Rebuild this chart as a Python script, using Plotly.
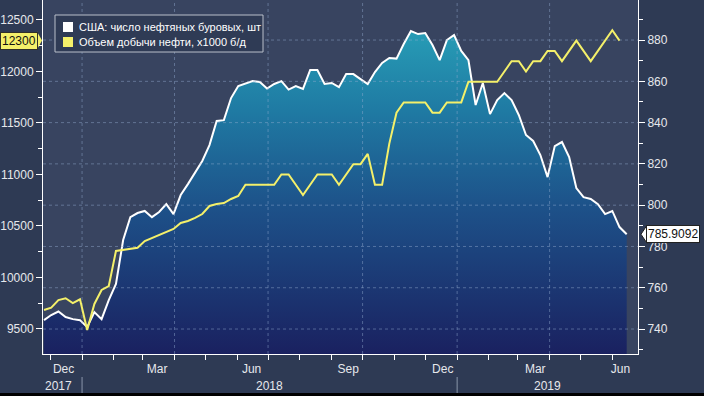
import pandas as pd
import plotly.graph_objects as go

W, H = 704, 396
L, R, T, B = 43, 638, 0, 354  # plot area in pixels


def px(xp):
    return (xp - L) / (R - L)


def py(yp):
    return 1 - (yp - T) / (B - T)


RIG_NAME = "США: число нефтяных буровых, шт"
PROD_NAME = "Объем добычи нефти, x1000 б/д"

rig_dates = pd.date_range("2017-11-25", periods=82, freq="7D")
rigs = [
    744.3, 746.8, 748.5, 745.8, 744.8, 744.3, 740.9, 748.2, 744.8, 754.0,
    761.8, 783.1, 794.2, 796.2, 797.2, 794.2, 796.7, 800.5, 795.7, 804.9,
    810.2, 816.0, 821.4, 829.1, 840.8, 841.2, 851.9, 857.7, 858.9, 860.1,
    859.7, 856.5, 858.7, 860.1, 856.0, 857.7, 856.3, 865.5, 865.5, 858.7,
    859.2, 857.2, 863.5, 863.5, 861.1, 858.7, 864.5, 868.9, 871.3, 871.0,
    878.1, 884.4, 882.9, 883.4, 877.6, 870.3, 880.0, 882.4, 874.7, 870.3,
    848.5, 859.2, 844.1, 850.9, 854.3, 850.9, 843.7, 834.0, 831.1, 824.3,
    813.6, 828.6, 830.6, 823.3, 808.3, 803.9, 803.0, 800.5, 795.7, 797.2,
    789.4, 785.9092,
]

prod_dates = rig_dates[:81]
production = [
    9684, 9707, 9781, 9798, 9752, 9788, 9490, 9743, 9879, 9917,
    10257, 10267, 10277, 10289, 10354, 10383, 10413, 10442, 10471, 10529,
    10549, 10578, 10616, 10694, 10714, 10723, 10762, 10791, 10900, 10900,
    10900, 10900, 10900, 11000, 11000, 10900, 10800, 10900, 11000, 11000,
    11000, 10900, 11000, 11100, 11100, 11200, 10900, 10900, 11300, 11600,
    11700, 11700, 11700, 11700, 11600, 11600, 11700, 11700, 11700, 11900,
    11900, 11900, 11900, 11900, 12000, 12100, 12100, 12000, 12100, 12100,
    12200, 12200, 12100, 12200, 12300, 12200, 12100, 12200, 12300, 12400,
    12300,
]

rig_ticks = [740, 760, 780, 800, 820, 840, 860, 880]
prod_ticks = [9500, 10000, 10500, 11000, 11500, 12000, 12500]
month_label_dates = ["2017-12-14", "2018-03-15", "2018-06-15", "2018-09-17",
                     "2018-12-18", "2019-03-18", "2019-06-09"]
month_labels = ["Dec", "Mar", "Jun", "Sep", "Dec", "Mar", "Jun"]
year_labels = ["2017", "2018", "2019"]
year_label_dates = ["2017-12-09", "2018-07-02", "2019-03-30"]
year_breaks = ["2018-01-01", "2019-01-01"]
grid_dates = ["2018-01-01", "2018-04-01", "2018-07-01", "2018-10-01",
              "2019-01-01", "2019-04-01"]

X_RANGE = ["2017-11-24", "2019-06-26"]
RIG_RANGE = [727.9, 899.4]
PROD_RANGE = [9257, 12694]

WHITE = "#ffffff"
YELLOW = "#f4f06a"
TXT = "#e6e8ec"
FONT = "Liberation Sans, Arial, sans-serif"

fig = go.Figure()

# rigs area (right axis)
fig.add_trace(go.Scatter(
    x=rig_dates, y=rigs, name=RIG_NAME, mode="lines",
    line=dict(color=WHITE, width=2),
    fill="tozeroy",
    fillgradient=dict(type="vertical",
                      colorscale=[[0, "#1a2160"], [0.45, "#1d5189"],
                                  [0.75, "#1f7aa3"], [1, "#279db6"]],
                      start=RIG_RANGE[0], stop=885),
    yaxis="y", showlegend=False, hoverinfo="skip",
))

# dashed grid above the area
gx, gy = [], []
for v in rig_ticks:
    gx += [X_RANGE[0], X_RANGE[1], None]
    gy += [v, v, None]
for d in grid_dates:
    gx += [d, d, None]
    gy += [RIG_RANGE[0], RIG_RANGE[1], None]
fig.add_trace(go.Scatter(
    x=gx, y=gy, mode="lines", yaxis="y",
    line=dict(color="rgba(150,175,210,0.45)", width=1, dash="3px,3px"),
    showlegend=False, hoverinfo="skip",
))

# production line (left axis)
fig.add_trace(go.Scatter(
    x=prod_dates, y=production, name=PROD_NAME, mode="lines",
    line=dict(color=YELLOW, width=2),
    yaxis="y2", showlegend=False, hoverinfo="skip",
))

shapes = []
annotations = []

# year separators
for d in year_breaks:
    shapes.append(dict(type="line", xref="x", yref="paper", x0=d, x1=d,
                       y0=py(377), y1=py(393),
                       line=dict(color="#8a96aa", width=1)))
for lbl, d in zip(year_labels, year_label_dates):
    annotations.append(dict(text=lbl, x=d, xref="x", y=py(386), yref="paper",
                            showarrow=False, xanchor="center", yanchor="middle",
                            font=dict(size=12, color=TXT, family=FONT)))

# manual legend
shapes.append(dict(type="rect", xref="paper", yref="paper",
                   x0=px(55), x1=px(263), y0=py(52), y1=py(15),
                   fillcolor="#2f3b55", line=dict(color="#b9bfca", width=1),
                   layer="above"))
for name, col, yc in [(RIG_NAME, WHITE, 27), (PROD_NAME, YELLOW, 42)]:
    shapes.append(dict(type="rect", xref="paper", yref="paper",
                       x0=px(63), x1=px(73), y0=py(yc + 5), y1=py(yc - 5),
                       fillcolor=col, line=dict(width=0), layer="above"))
    annotations.append(dict(text=name, x=px(77), xref="paper", y=py(yc),
                            yref="paper", showarrow=False, xanchor="left",
                            yanchor="middle",
                            font=dict(size=11, color=WHITE, family=FONT)))

# last value labels
annotations.append(dict(text=f"{production[-1]}", xref="paper", x=px(0),
                        xanchor="left", yref="y2", y=production[-1],
                        yanchor="middle", showarrow=False, bgcolor=YELLOW,
                        bordercolor="#30302a", borderwidth=1, borderpad=1,
                        font=dict(size=12, color="#111111", family=FONT)))
shapes.append(dict(type="path", xref="paper", yref="y2",
                   xsizemode="pixel", ysizemode="pixel",
                   xanchor=px(37), yanchor=production[-1],
                   path="M0,-9 L5,0 L0,9 Z", fillcolor=YELLOW,
                   line=dict(width=0)))
annotations.append(dict(text=f"{rigs[-1]:.4f}", xref="paper", x=px(646),
                        xanchor="left", yref="y", y=rigs[-1],
                        yanchor="middle", showarrow=False, bgcolor=WHITE,
                        bordercolor="#222222", borderwidth=1, borderpad=1,
                        font=dict(size=12, color="#111111", family=FONT)))
shapes.append(dict(type="path", xref="paper", yref="y",
                   xsizemode="pixel", ysizemode="pixel",
                   xanchor=px(647), yanchor=rigs[-1],
                   path="M0,-9 L-6,0 L0,9 Z", fillcolor=WHITE,
                   line=dict(color="#222222", width=1)))

# bottom black frame line
shapes.append(dict(type="rect", xref="paper", yref="paper",
                   x0=px(0), x1=px(704), y0=py(396), y1=py(393),
                   fillcolor="#000000", line=dict(width=0)))

fig.update_layout(
    width=W, height=H, autosize=False,
    margin=dict(l=L, r=W - R, t=T, b=H - B, pad=0, autoexpand=False),
    paper_bgcolor="#2e3a54",
    plot_bgcolor="#384460",
    font=dict(family=FONT, size=12, color=TXT),
    showlegend=False,
    xaxis=dict(
        type="date", range=X_RANGE, tickmode="array",
        tickvals=month_label_dates, ticktext=month_labels,
        ticks="", showgrid=False, zeroline=False, automargin=False,
        ticklabelstandoff=4,
        showline=True, linecolor=WHITE, linewidth=1,
        tickfont=dict(size=12, color=TXT, family=FONT),
        minor=dict(dtick="M1", tick0="2017-12-01", ticks="outside",
                   ticklen=5, tickcolor=WHITE, tickwidth=1, showgrid=False),
    ),
    yaxis=dict(
        side="right", range=RIG_RANGE, tickmode="array", tickvals=rig_ticks,
        tickformat="d", automargin=False,
        showgrid=False, zeroline=False, showline=True, linecolor=WHITE,
        linewidth=1, ticks="outside", ticklen=6, tickcolor=WHITE,
        tickfont=dict(size=12, color=TXT, family=FONT),
        minor=dict(dtick=10, tick0=730, ticks="outside", ticklen=4,
                   tickcolor=WHITE, showgrid=False),
    ),
    yaxis2=dict(
        side="left", overlaying="y", range=PROD_RANGE, tickmode="array",
        tickvals=prod_ticks, tickformat="d", automargin=False,
        showgrid=False, zeroline=False, showline=True,
        linecolor=WHITE, linewidth=1, ticks="outside", ticklen=6,
        tickcolor=WHITE, tickfont=dict(size=12, color=TXT, family=FONT),
        minor=dict(dtick=250, tick0=9250, ticks="outside", ticklen=4,
                   tickcolor=WHITE, showgrid=False),
    ),
    shapes=shapes,
    annotations=annotations,
)

fig.write_html(
    "out.html",
    config={"displayModeBar": False},
    post_script="document.body.style.margin='0px';"
                "document.body.style.overflow='hidden';",
)
